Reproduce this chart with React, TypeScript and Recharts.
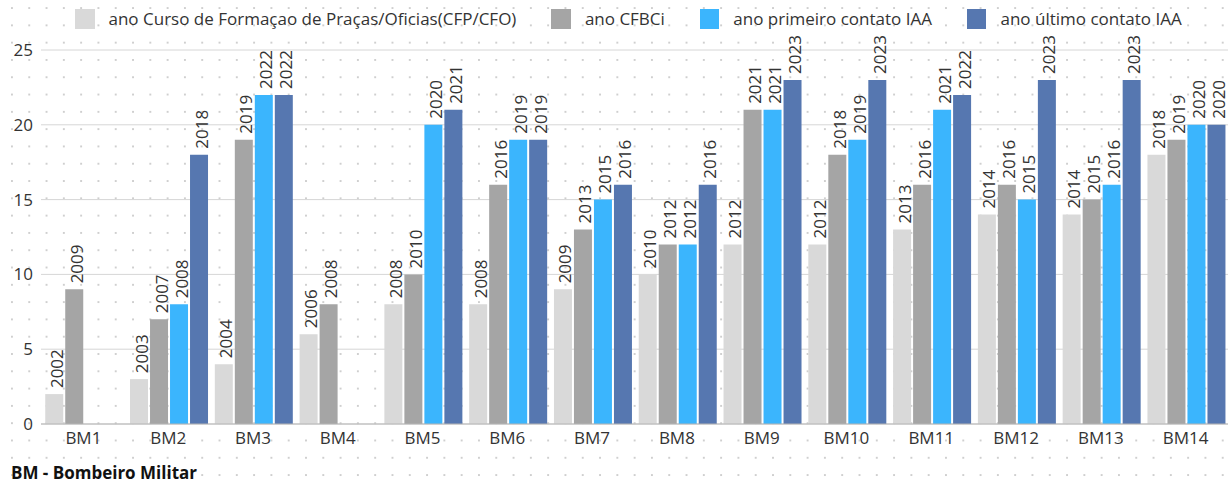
import { Bar, BarChart, CartesianGrid, LabelList, XAxis, YAxis } from "recharts";

const categories = ["BM1", "BM2", "BM3", "BM4", "BM5", "BM6", "BM7", "BM8", "BM9", "BM10", "BM11", "BM12", "BM13", "BM14"];

const cfpHeights = [2, 3, 4, 6, 8, 8, 9, 10, 12, 12, 13, 14, 14, 18];
const cfpYears = ["2002", "2003", "2004", "2006", "2008", "2008", "2009", "2010", "2012", "2012", "2013", "2014", "2014", "2018"];

const cfbciHeights = [9, 7, 19, 8, 10, 16, 13, 12, 21, 18, 16, 16, 15, 19];
const cfbciYears = ["2009", "2007", "2019", "2008", "2010", "2016", "2013", "2012", "2021", "2018", "2016", "2016", "2015", "2019"];

const firstHeights = [null, 8, 22, null, 20, 19, 15, 12, 21, 19, 21, 15, 16, 20];
const firstYears = [null, "2008", "2022", null, "2020", "2019", "2015", "2012", "2021", "2019", "2021", "2015", "2016", "2020"];

const lastHeights = [null, 18, 22, null, 21, 19, 16, 16, 23, 23, 22, 23, 23, 20];
const lastYears = [null, "2018", "2022", null, "2021", "2019", "2016", "2016", "2023", "2023", "2022", "2023", "2023", "2020"];

const yTicks = [0, 5, 10, 15, 20, 25];

const series = [
  { key: "cfp", name: "ano Curso de Formaçao de Praças/Oficias(CFP/CFO)", color: "#d9d9d9" },
  { key: "cfbci", name: "ano CFBCi", color: "#a5a5a5" },
  { key: "first", name: "ano primeiro contato IAA", color: "#3bb5fd" },
  { key: "last", name: "ano último contato IAA", color: "#5677b0" },
];

const data = categories.map((name, i) => ({
  name,
  cfp: cfpHeights[i],
  cfpYear: cfpYears[i],
  cfbci: cfbciHeights[i],
  cfbciYear: cfbciYears[i],
  first: firstHeights[i],
  firstYear: firstYears[i],
  last: lastHeights[i],
  lastYear: lastYears[i],
}));

const FONT = "'Open Sans', sans-serif";
const TEXT = "#333";

function YearLabel(props: any) {
  const { x, y, width, value } = props;
  if (value == null) return null;
  const bx = Number(x) + Number(width) / 2 + 8.5;
  const ty = Number(y) - 6;
  return (
    <text
      x={bx}
      y={ty}
      transform={`rotate(-90 ${bx} ${ty})`}
      fontSize={17}
      fill={TEXT}
      fontFamily={FONT}
      textAnchor="start"
    >
      {value}
    </text>
  );
}

export default function App() {
  return (
    <div
      style={{
        position: "absolute",
        left: 0,
        top: 0,
        width: 1230,
        height: 485,
        background: "#fff",
        backgroundImage: "radial-gradient(circle, #cfcfcf 0.9px, transparent 1.3px)",
        backgroundSize: "17.3px 17.3px",
        backgroundPosition: "3.3px -0.6px",
        fontFamily: FONT,
        color: TEXT,
        overflow: "hidden",
      }}
    >
      <div
        style={{
          position: "absolute",
          left: 75,
          top: 9,
          display: "flex",
          alignItems: "center",
          fontSize: 17,
          whiteSpace: "nowrap",
        }}
      >
        {series.map((s) => (
          <div key={s.key} style={{ display: "flex", alignItems: "center", marginRight: 35 }}>
            <span style={{ width: 19.5, height: 20, background: s.color, marginRight: 14, display: "inline-block" }} />
            <span style={{ lineHeight: "20px" }}>{s.name}</span>
          </div>
        ))}
      </div>

      <BarChart
        width={1230}
        height={485}
        data={data}
        margin={{ top: 50, right: 2, bottom: 31, left: 0 }}
        barCategoryGap="5%"
        barGap={2}
        style={{ position: "absolute", left: 0, top: 0 }}
      >
        <CartesianGrid vertical={false} stroke="#d6d6d6" />
        <XAxis
          dataKey="name"
          interval={0}
          tickLine={false}
          axisLine={{ stroke: "#b5b5b5" }}
          height={30}
          tick={{ fontSize: 17, fill: TEXT, fontFamily: FONT }}
        />
        <YAxis
          domain={[0, 25]}
          ticks={yTicks}
          width={41}
          axisLine={false}
          tickLine={false}
          tick={{ fontSize: 17, fill: TEXT, fontFamily: FONT }}
        />
        {series.map((s) => (
          <Bar key={s.key} dataKey={s.key} name={s.name} fill={s.color} isAnimationActive={false}>
            <LabelList dataKey={`${s.key}Year`} content={YearLabel} />
          </Bar>
        ))}
      </BarChart>

      <div
        style={{
          position: "absolute",
          left: 11,
          top: 461,
          fontSize: 17,
          fontWeight: 700,
          lineHeight: "23px",
          color: "#111",
        }}
      >
        BM - Bombeiro Militar
      </div>
    </div>
  );
}
